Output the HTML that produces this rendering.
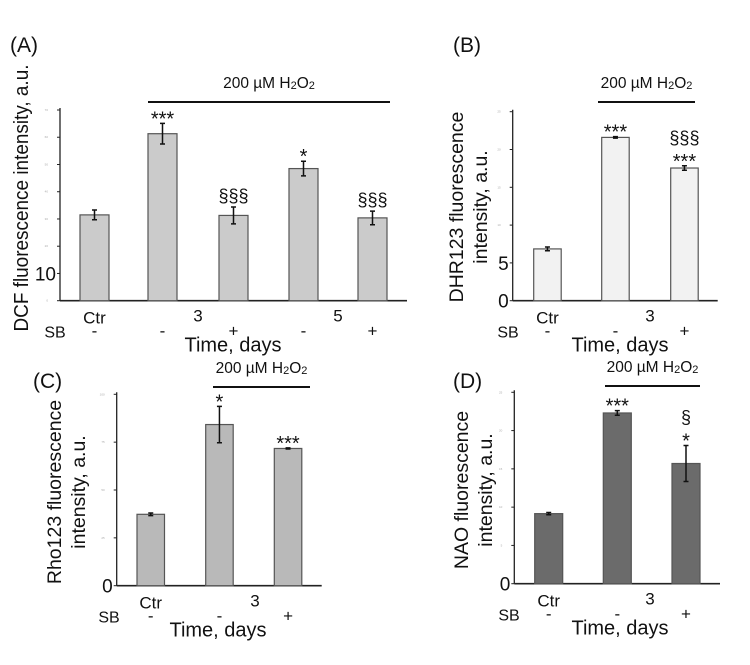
<!DOCTYPE html>
<html><head><meta charset="utf-8"><style>
body{margin:0;background:#fff}
svg{display:block;font-family:"Liberation Sans",Arial,sans-serif}
</style></head><body>
<svg id="c" width="750" height="665" viewBox="0 0 750 665"></svg>
<script>
// Panel A data
const catsA=["Ctr","3 -","3 +","5 -","5 +"];
const valsA=[31.5,61.3,31.3,48.5,30.4];
const errA=[1.8,3.8,3.1,2.7,2.5];
const annA=[[],["***"],["§§§"],["*"],["§§§"]];
const ticksA=[0,10,20,30,40,50,60,70];
// Panel B data
const catsB=["Ctr","3 -","3 +"];
const valsB=[6.85,21.6,17.55];
const errB=[0.25,0.1,0.3];
const annB=[[],["***"],["§§§","***"]];
const ticksB=[0,5,10,15,20,25];
// Panel C data
const catsC=["Ctr","3 -","3 +"];
const valsC=[37.3,84.2,71.7];
const errC=[0.7,9.5,0.3];
const annC=[[],["*"],["***"]];
const ticksC=[0,25,50,75,100];
// Panel D data
const catsD=["Ctr","3 -","3 +"];
const valsD=[9.15,22.3,15.7];
const errD=[0.15,0.3,2.35];
const annD=[[],["***"],["§","*"]];
const ticksD=[0,5,10,15,20,25];

const svg=document.getElementById('c');
const NS="http://www.w3.org/2000/svg";
function mk(tag,a,txt){const e=document.createElementNS(NS,tag);for(const k in a)e.setAttribute(k,a[k]);if(txt!==undefined)e.textContent=txt;svg.appendChild(e);return e;}

function panel(p){
  const y=v=>p.y0-(v-p.vmin)/(p.vmax-p.vmin)*(p.y0-p.y1);
  let e;
  e=mk('line',{x1:p.ax,y1:p.y1-2,x2:p.ax,y2:p.y0,stroke:'#222','stroke-width':1.3});
  
  
  e=mk('line',{x1:p.ax,y1:p.y0,x2:p.xend,y2:p.y0,stroke:'#222','stroke-width':1.6});
  
  
  p.ticks.forEach(t=>{
    const ty=y(t);
    e=mk('line',{x1:p.ax-3,y1:ty,x2:p.ax,y2:ty,stroke:'#222','stroke-width':1});
    
    
    const big=p.big.includes(t);
    e=mk('text',{x:p.ax-(big?4:12),y:ty+(big?7:1),'text-anchor':'end','font-size':big?19:3,fill:big?'#111':'#aaa'},String(t));
    
    
  });
  p.vals.forEach((v,i)=>{
    const bx=p.bx[i], by=y(v);
    e=mk('rect',{x:bx,y:by,width:p.bw,height:p.y0-by,fill:p.fill,stroke:'#555','stroke-width':1.2});
    
    
    const cx=bx+p.bw/2, et=y(v+p.err[i]), eb=y(v-p.err[i]);
    e=mk('path',{d:`M${cx},${et}V${eb}M${cx-2.5},${et}H${cx+2.5}M${cx-2.5},${eb}H${cx+2.5}`,stroke:'#111','stroke-width':1.5,fill:'none'});
    
    
    p.ann[i].forEach((s,k)=>{
      const n=p.ann[i].length-1-k;
      const isStar=s.indexOf('*')>=0;
      e=mk('text',{x:cx,y:et-5-n*17+(isStar?7:0),'text-anchor':'middle','font-size':isStar?20:18,fill:'#111'},s);
      
      
    });
  });
  e=mk('line',{x1:p.hx1,y1:p.hy,x2:p.hx2,y2:p.hy,stroke:'#111','stroke-width':2});
  
  
  e=mk('text',{x:(p.hx1+p.hx2)/2,y:p.hy-14,'text-anchor':'middle','font-size':15.5,fill:'#111'});
  e.innerHTML='200 µM H<tspan font-size="11" dy="1">2</tspan><tspan dy="-1">O</tspan><tspan font-size="11" dy="1">2</tspan>';
  
  
  e=mk('text',{x:p.lx,y:p.ly,'font-size':21,fill:'#111'},p.letter);
  
  
  const ty=p.y0+23;
  e=mk('text',{x:p.bx[0]+p.bw/2,y:ty,'text-anchor':'middle','font-size':17,fill:'#111'},'Ctr');
  
  
  p.days.forEach(d=>{
    e=mk('text',{x:d[0],y:ty-2,'text-anchor':'middle','font-size':17,fill:'#111'},d[1]);
    
    
  });
  e=mk('text',{x:p.sbx,y:ty+14,'text-anchor':'middle','font-size':16,fill:'#111'},'SB');
  
  
  p.sb.forEach((s,i)=>{
    e=mk('text',{x:p.bx[i]+p.bw/2,y:ty+13,'text-anchor':'middle','font-size':17,fill:'#111'},s);
    
    
  });
  e=mk('text',{x:p.tx,y:p.y0+51,'text-anchor':'middle','font-size':20,fill:'#111'},'Time, days');
  
  
  p.title.forEach((t,k)=>{
    const x=p.tix[k];
    const at={x:x,y:p.tiy,'text-anchor':'middle','font-size':p.tfs,fill:'#111',transform:`rotate(-90 ${x} ${p.tiy})`};
    if(p.tlen){at.textLength=p.tlen;at.lengthAdjust='spacingAndGlyphs';}
    e=mk('text',at,t);
    
    
  });
}

panel({id:'a',vals:valsA,err:errA,ann:annA,ticks:ticksA,big:[10],vmin:0,vmax:70,ax:60,y0:300.7,y1:110,xend:407,
  bx:[80,148,219,289,358],bw:29,fill:'#cbcbcb',hx1:148,hx2:390,hy:102,letter:'(A)',lx:10,ly:52,
  days:[[198,'3'],[338,'5']],sbx:55,sb:['-','-','+','-','+'],tx:233,title:['DCF fluorescence intensity, a.u.'],tfs:20,tlen:267,tix:[28],tiy:198});
panel({id:'b',vals:valsB,err:errB,ann:annB,ticks:ticksB,big:[0,5],vmin:0,vmax:25,ax:512.7,y0:300.7,y1:111.7,xend:717.7,
  bx:[533.7,601.7,670.7],bw:27.5,fill:'#f2f2f2',hx1:598,hx2:695,hy:102,letter:'(B)',lx:453,ly:52,
  days:[[650,'3']],sbx:508,sb:['-','-','+'],tx:620,title:['DHR123 fluorescence','intensity, a.u.'],tfs:19.5,tix:[463,487],tiy:207});
panel({id:'c',vals:valsC,err:errC,ann:annC,ticks:ticksC,big:[0],vmin:0,vmax:100,ax:116.7,y0:585.7,y1:394.3,xend:321.7,
  bx:[137,205.7,274.3],bw:27.5,fill:'#b9b9b9',hx1:213,hx2:310,hy:387,letter:'(C)',lx:33,ly:388,
  days:[[255,'3']],sbx:109,sb:['-','-','+'],tx:218,title:['Rho123 fluorescence','intensity, a.u.'],tfs:19.5,tix:[61,85],tiy:492});
panel({id:'d',vals:valsD,err:errD,ann:annD,ticks:ticksD,big:[0],vmin:0,vmax:25,ax:514.3,y0:583.7,y1:392.3,xend:720,
  bx:[534.7,603.3,672],bw:28,fill:'#6b6b6b',hx1:605,hx2:700,hy:386,letter:'(D)',lx:453,ly:388,
  days:[[650,'3']],sbx:509,sb:['-','-','+'],tx:620,title:['NAO fluorescence','intensity, a.u.'],tfs:19.5,tix:[468,492],tiy:490});
</script>
</body></html>
